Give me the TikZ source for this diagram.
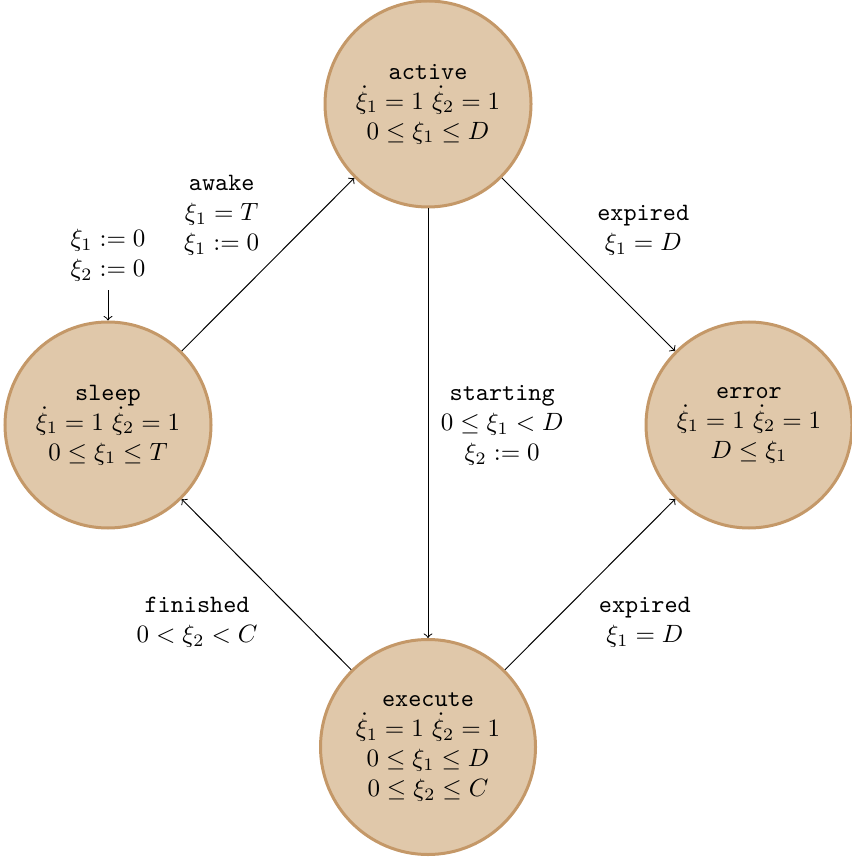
\documentclass[tikz,border=0pt]{standalone}
\usepackage{amsmath,amssymb}
\usepackage{xcolor}
\usepackage{tikz}
\usetikzlibrary{arrows,positioning}

\definecolor{locfill}{RGB}{224,200,170}
\definecolor{locdraw}{RGB}{196,152,104}

\begin{document}
\begin{tikzpicture}[
    x=0.4pt, y=-0.4pt,
    loc/.style={circle, draw=locdraw, fill=locfill, line width=1.2pt, minimum size=82.4pt, inner sep=0pt, align=center},
    guard/.style={align=center},
    arrow/.style={->}
]
\useasboundingbox (0,0) rectangle (851,857);

% Locations
\node[loc] (active) at (428,104) {\texttt{active}\\ $\dot{\xi}_1 = 1$ $\dot{\xi}_2 = 1$\\ $0 \leq \xi_1 \leq D$};
\node[loc] (sleep) at (108,425) {\texttt{sleep}\\ $\dot{\xi}_1 = 1$ $\dot{\xi}_2 = 1$\\ $0 \leq \xi_1 \leq T$};
\node[loc] (error) at (749,425) {\texttt{error}\\ $\dot{\xi}_1 = 1$ $\dot{\xi}_2 = 1$\\ $D \leq \xi_1$};
\node[loc, minimum size=86pt] (execute) at (428,747) {\texttt{execute}\\ $\dot{\xi}_1 = 1$ $\dot{\xi}_2 = 1$\\ $0 \leq \xi_1 \leq D$\\ $0 \leq \xi_2 \leq C$};

% Initial
\node[guard, above=12pt of sleep] (init) {$\xi_1 := 0$\\ $\xi_2 := 0$};

% Transitions
\draw[arrow] (init) -- (sleep);
\draw[arrow] (sleep) -- node[guard, midway, above left] {\texttt{awake}\\ $\xi_1 = T$\\ $\xi_1 := 0$} (active);
\draw[arrow] (active) -- node[guard, midway, above right] {\texttt{expired}\\ $\xi_1 = D$} (error);
\draw[arrow] (active) -- node[guard, midway, right, xshift=1.6pt, yshift=-0.8pt] {\texttt{starting}\\ $0 \leq \xi_1 < D$\\ $\xi_2 := 0$} (execute);
\draw[arrow] (execute) -- node[guard, midway, below left, yshift=-1.6pt] {\texttt{finished}\\ $0 < \xi_2 < C$} (sleep);
\draw[arrow] (execute) -- node[guard, midway, below right, yshift=-1.6pt] {\texttt{expired}\\ $\xi_1 = D$} (error);

\end{tikzpicture}
\end{document}
